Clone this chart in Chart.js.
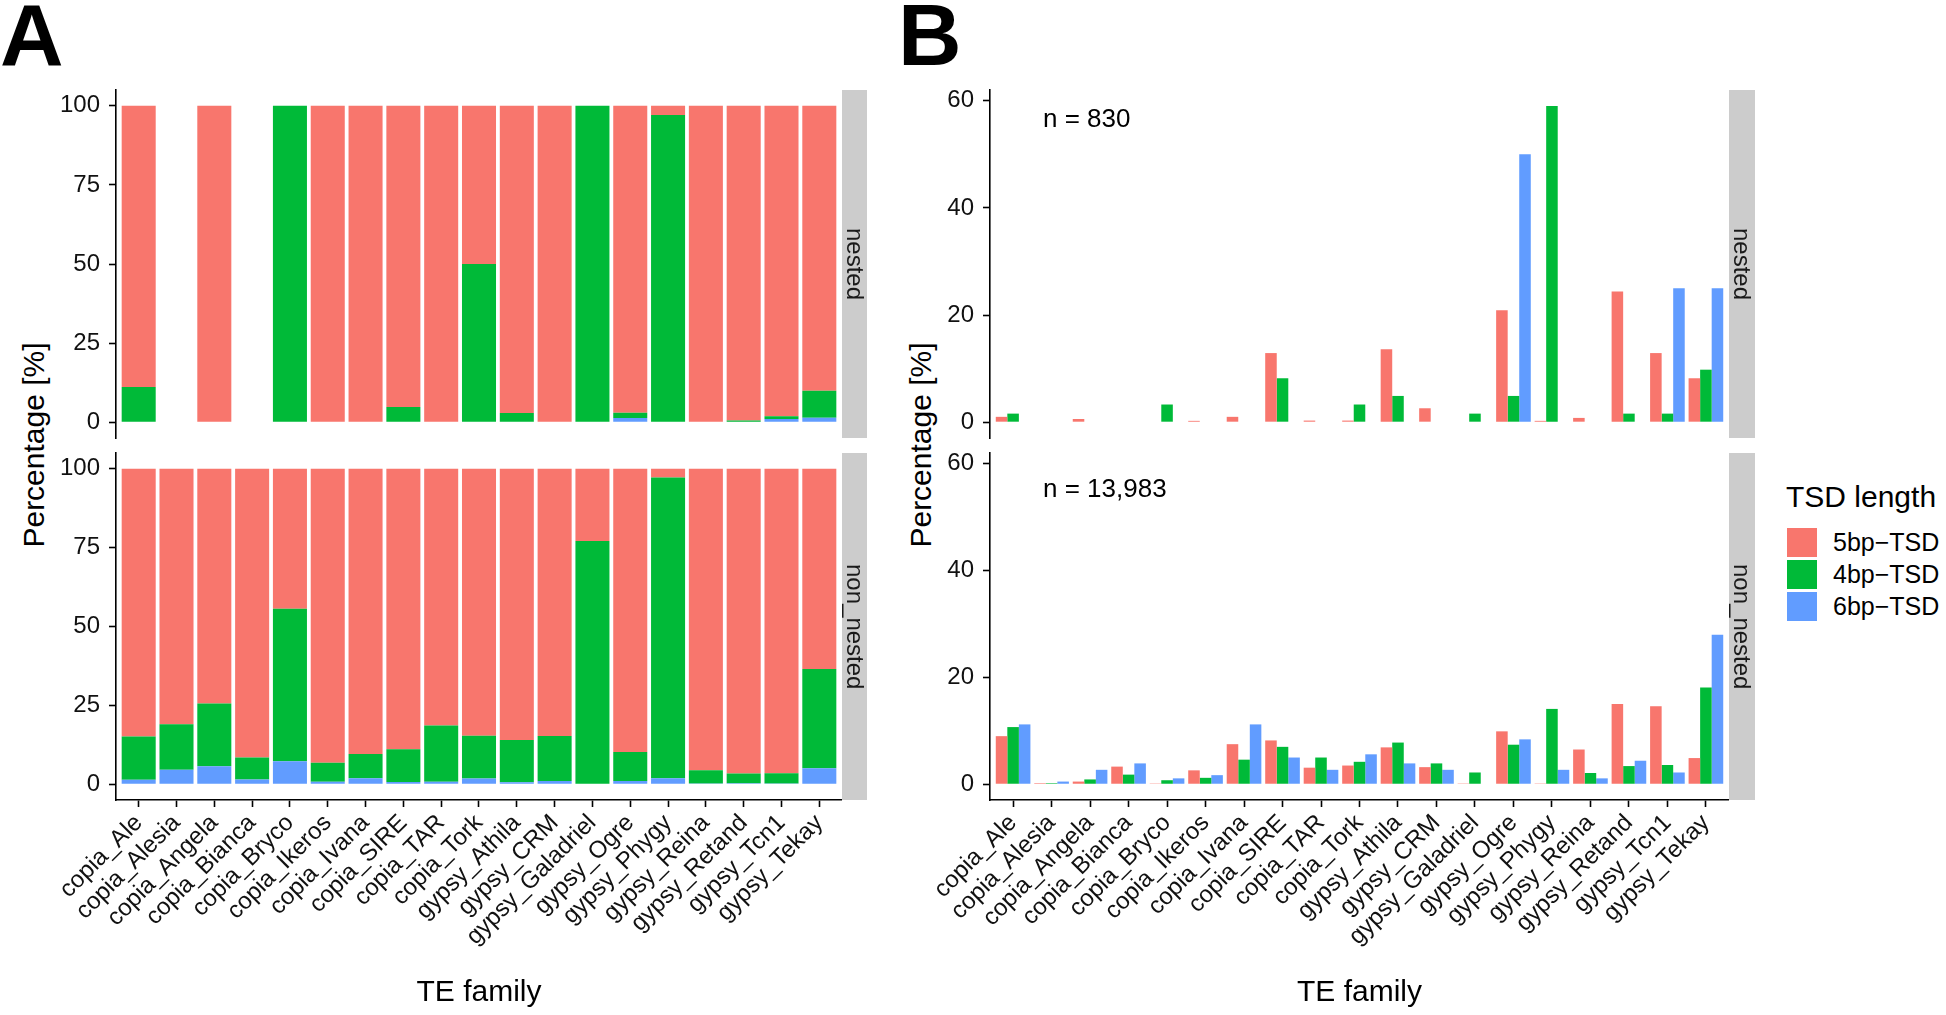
<!DOCTYPE html>
<html>
<head>
<meta charset="utf-8">
<script src="https://cdn.jsdelivr.net/npm/chart.js@4.4.1/dist/chart.umd.min.js"></script>
<style>
  body { margin: 0; background: #fff; width: 1946px; height: 1015px; position: relative; overflow: hidden;
         font-family: "Liberation Sans", Arial, Helvetica, sans-serif; color: #000; }
  canvas { position: absolute; }
  .txt { position: absolute; white-space: nowrap; }
  .panel-tag { font-size: 88px; font-weight: bold; line-height: 88px; }
  .ytitle { font-size: 30px; line-height: 30px; transform: translate(-50%, -50%) rotate(-90deg); }
  .strip { position: absolute; background: #cccccc; display: flex; align-items: center; justify-content: center;
           writing-mode: vertical-rl; font-size: 24px; color: #1a1a1a; }
  .ntext { font-size: 26px; line-height: 26px; }
  .legend-key { position: absolute; width: 30px; height: 29px; }
  .legend-lab { position: absolute; font-size: 25px; line-height: 29px; }
</style>
</head>
<body>

<div class="txt panel-tag" style="left:0px; top:-9px;">A</div>
<div class="txt panel-tag" style="left:898px; top:-9px;">B</div>

<div class="txt ytitle" style="left:34px; top:445px;">Percentage [%]</div>
<div class="txt ytitle" style="left:921px; top:445px;">Percentage [%]</div>

<canvas id="aNested" width="842" height="408" style="left:0px; top:60px;"></canvas>
<canvas id="aNonNested" width="842" height="592" style="left:0px; top:423px;"></canvas>
<canvas id="bNested" width="855" height="408" style="left:874px; top:60px;"></canvas>
<canvas id="bNonNested" width="855" height="592" style="left:874px; top:423px;"></canvas>

<div class="strip" style="left:842px; top:90px; width:25px; height:348px;">nested</div>
<div class="strip" style="left:842px; top:453px; width:25px; height:347px;">non_nested</div>
<div class="strip" style="left:1729px; top:90px; width:26px; height:348px;">nested</div>
<div class="strip" style="left:1729px; top:453px; width:26px; height:347px;">non_nested</div>

<div class="txt ntext" id="nNested" style="left:1043px; top:105px;"></div>
<div class="txt ntext" id="nNonNested" style="left:1043px; top:475px;"></div>

<div id="legend"></div>

<script>
// categories
const families = ["copia_Ale", "copia_Alesia", "copia_Angela", "copia_Bianca", "copia_Bryco", "copia_Ikeros",
                  "copia_Ivana", "copia_SIRE", "copia_TAR", "copia_Tork", "gypsy_Athila", "gypsy_CRM",
                  "gypsy_Galadriel", "gypsy_Ogre", "gypsy_Phygy", "gypsy_Reina", "gypsy_Retand",
                  "gypsy_Tcn1", "gypsy_Tekay"];
const tsdClasses = ["5bp\u2212TSD", "4bp\u2212TSD", "6bp\u2212TSD"];
const tsdColors  = ["#F8766D", "#00BA38", "#619CFF"];
const nLabels = ["n = 830", "n = 13,983"];

// tick labels
const yTicksA = [0, 25, 50, 75, 100];
const yTicksB = [0, 20, 40, 60];

// panel A: share of each TSD class within a family (%)
const aNested5 = [88.9, null, 100, null, 0, 100, 100, 95.2, 100, 50, 97.1, 100, 0, 97.0, 2.9, 100, 99.5, 98.1, 90.1];
const aNested4 = [11.1, null, 0, null, 100, 0, 0, 4.8, 0, 50, 2.9, 0, 100, 1.7, 97.1, 0, 0.5, 0.9, 8.5];
const aNested6 = [0, null, 0, null, 0, 0, 0, 0, 0, 0, 0, 0, 0, 1.3, 0, 0, 0, 1.0, 1.4];

const aNon5 = [84.9, 81.0, 74.4, 91.5, 44.4, 93.2, 90.4, 88.9, 81.4, 84.6, 86.0, 84.7, 22.9, 89.8, 2.8, 95.6, 96.6, 96.5, 63.5];
const aNon4 = [13.7, 14.4, 19.9, 7.0, 48.3, 6.0, 7.7, 10.4, 17.8, 13.6, 13.4, 14.3, 77.1, 9.2, 95.3, 4.2, 3.1, 3.3, 31.4];
const aNon6 = [1.4, 4.6, 5.7, 1.5, 7.3, 0.8, 1.9, 0.7, 0.8, 1.8, 0.6, 1.0, 0, 1.0, 1.9, 0.2, 0.3, 0.2, 5.1];

// panel B: share of each family within a TSD class (%)
const bNested5 = [1.0, 0, 0.6, 0, 0, 0.25, 1.0, 12.9, 0.3, 0.3, 13.6, 2.6, 0, 20.9, 0.25, 0.8, 24.4, 12.9, 8.2];
const bNested4 = [1.6, 0, 0, 0, 3.3, 0, 0, 8.2, 0, 3.3, 4.9, 0, 1.6, 4.9, 59.0, 0, 1.6, 1.6, 9.8];
const bNested6 = [0, 0, 0, 0, 0, 0, 0, 0, 0, 0, 0, 0, 0, 50.0, 0, 0, 0, 25.0, 25.0];

const bNon5 = [9.0, 0.2, 0.5, 3.3, 0.15, 2.6, 7.5, 8.2, 3.1, 3.5, 6.9, 3.2, 0.15, 9.9, 0.15, 6.5, 15.0, 14.6, 4.9];
const bNon4 = [10.7, 0.2, 0.9, 1.8, 0.75, 1.2, 4.6, 7.0, 5.0, 4.2, 7.8, 3.9, 2.2, 7.4, 14.1, 2.1, 3.4, 3.6, 18.1];
const bNon6 = [11.2, 0.5, 2.7, 3.9, 1.1, 1.7, 11.2, 5.0, 2.7, 5.6, 3.9, 2.7, 0, 8.4, 2.7, 1.1, 4.4, 2.2, 28.0];

Chart.defaults.font.family = '"Liberation Sans", Arial, Helvetica, sans-serif';
Chart.defaults.color = "#000";

const toPoints = vals => vals.map((v, i) => ({ x: i, y: v }));

const axisLine = { display: true, color: "#000", width: 1.6 };
const tickMarks = { drawOnChartArea: false, drawTicks: true, offset: false, tickLength: 7, tickColor: "#000", tickWidth: 1.6 };

function facetChart(id, series, yMin, yMax, yTicks, stacked, showX) {
    // ggplot stacks the first level on top, so draw 6bp first when stacking
    const order = stacked ? [2, 1, 0] : [0, 1, 2];
    new Chart(document.getElementById(id), {
        type: "bar",
        data: {
            datasets: order.map(k => ({
                label: tsdClasses[k],
                data: toPoints(series[k]),
                backgroundColor: tsdColors[k],
                borderWidth: 0,
                categoryPercentage: 0.9,
                barPercentage: 1.0,
                stack: stacked ? "all" : "s" + k
            }))
        },
        options: {
            responsive: false,
            animation: false,
            events: [],
            layout: { padding: { top: 30, right: 0, bottom: showX ? 0 : 30, left: 0 } },
            plugins: { legend: { display: false }, tooltip: { enabled: false } },
            scales: {
                x: {
                    type: "linear",
                    min: -0.6,
                    max: families.length - 0.4,
                    offset: false,
                    stacked: stacked,
                    display: showX,
                    afterBuildTicks: s => { s.ticks = families.map((_, i) => ({ value: i })); },
                    afterFit: s => { s.height = showX ? 215 : 0; },
                    ticks: {
                        autoSkip: false, minRotation: 45, maxRotation: 45, padding: 2,
                        font: { size: 24 }, color: "#111",
                        callback: v => families[v]
                    },
                    grid: tickMarks,
                    border: axisLine,
                    title: { display: true, text: "TE family", font: { size: 30 }, color: "#000",
                             padding: { top: 0, bottom: 4 } }
                },
                y: {
                    min: yMin,
                    max: yMax,
                    stacked: stacked,
                    afterBuildTicks: s => { s.ticks = yTicks.map(v => ({ value: v })); },
                    afterFit: s => { s.width = 116; },
                    ticks: { padding: 9, font: { size: 24 }, color: "#111" },
                    grid: tickMarks,
                    border: axisLine
                }
            }
        }
    });
}

facetChart("aNested",    [aNested5, aNested4, aNested6], -5, 105, yTicksA, true, false);
facetChart("aNonNested", [aNon5, aNon4, aNon6],          -5, 105, yTicksA, true, true);
facetChart("bNested",    [bNested5, bNested4, bNested6], -2.95, 62.0, yTicksB, false, false);
facetChart("bNonNested", [bNon5, bNon4, bNon6],          -2.95, 62.0, yTicksB, false, true);

document.getElementById("nNested").textContent = nLabels[0];
document.getElementById("nNonNested").textContent = nLabels[1];

// legend
const legend = document.getElementById("legend");
let html = '<div class="txt" style="left:1786px; top:482px; font-size:30px; line-height:30px;">TSD length</div>';
tsdClasses.forEach((lab, i) => {
    const top = 528 + i * 32;
    html += '<div class="legend-key" style="left:1787px; top:' + top + 'px; background:' + tsdColors[i] + ';"></div>';
    html += '<div class="legend-lab" style="left:1833px; top:' + top + 'px;">' + lab + '</div>';
});
legend.innerHTML = html;
</script>
</body>
</html>
